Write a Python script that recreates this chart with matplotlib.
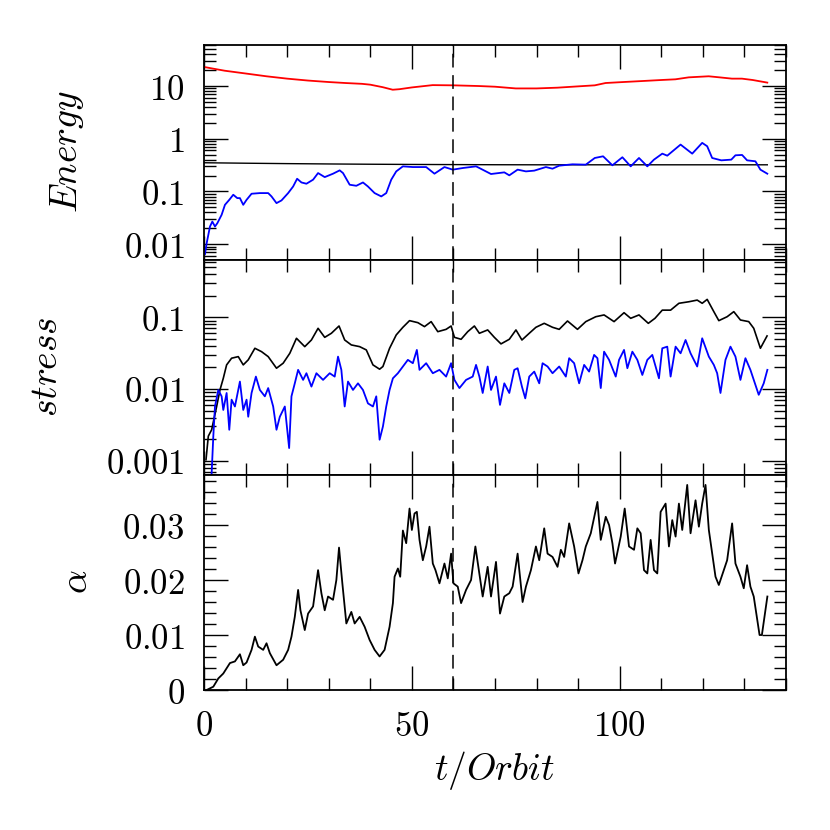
import numpy as np
import matplotlib.pyplot as plt
from matplotlib.ticker import MultipleLocator, FixedLocator, FixedFormatter, NullFormatter, LogLocator

plt.rcParams['mathtext.fontset'] = 'cm'

# energy panel
t_red = [0, 2, 5, 10.2, 15, 20, 25, 30, 34, 38, 40, 43, 45.4, 47, 50, 55, 60, 66, 70, 75, 80, 85,
         90, 94, 96.6, 100, 106, 110, 113.4, 116.6, 121.4, 124, 127, 129.4, 132, 135.5]
e_red = [23, 21.5, 19.5, 17.2, 15.3, 13.8, 12.7, 11.9, 11.4, 11.0, 10.6, 9.5, 8.5, 8.7, 9.4, 10.4,
         10.3, 10.0, 9.7, 9.0, 9.0, 9.3, 9.85, 10.3, 11.4, 11.8, 12.5, 13.0, 13.4, 14.6, 15.3, 14.6,
         13.8, 13.8, 13.0, 11.6]

t_blk = [0, 10, 20, 30, 40, 50, 60, 70, 80, 90, 100, 110, 120, 130, 135.5]
e_blk = [0.35, 0.343, 0.337, 0.332, 0.328, 0.325, 0.323, 0.321, 0.32, 0.32, 0.32, 0.32, 0.32, 0.32, 0.32]

t_blue = [0.24, 0.64, 1.44, 2.0, 2.64, 3.2, 4.24, 5.04, 6.08, 7.04, 8.0, 8.64, 9.44, 10.24, 11.44,
          13.44, 15.44, 16.24, 17.44, 18.64, 20.24, 21.44, 22.4, 23.44, 24.64, 26.24, 27.44, 29.04,
          31.04, 32.64, 33.44, 35.04, 36.64, 38.24, 39.44, 41.04, 42.64, 43.84, 45.04, 46.24, 47.84,
          50.24, 53.44, 55.44, 57.84, 59.84, 62.24, 65.44, 66.24, 69.04, 72.24, 73.44, 75.44, 77.44,
          79.44, 82.24, 83.84, 85.44, 88.64, 91.84, 94.0, 96.0, 98.24, 100.64, 102.64, 104.64,
          106.64, 108.24, 110.24, 111.44, 114.64, 117.44, 119.84, 121.04, 122.24, 124.44, 126.84,
          127.84, 129.44, 130.64, 132.64, 133.84, 135.5]
e_blue = [0.0065, 0.0104, 0.0216, 0.0268, 0.0216, 0.0249, 0.036, 0.0557, 0.0693, 0.0865, 0.0747,
          0.0747, 0.0557, 0.0693, 0.0904, 0.093, 0.093, 0.0804, 0.06, 0.0675, 0.093, 0.124, 0.174,
          0.148, 0.14, 0.167, 0.223, 0.187, 0.217, 0.251, 0.223, 0.134, 0.128, 0.148, 0.124, 0.093,
          0.0804, 0.093, 0.167, 0.24, 0.299, 0.29, 0.29, 0.217, 0.29, 0.259, 0.278, 0.299, 0.278,
          0.214, 0.23, 0.202, 0.259, 0.24, 0.248, 0.29, 0.27, 0.308, 0.327, 0.322, 0.431, 0.464,
          0.313, 0.445, 0.299, 0.431, 0.299, 0.401, 0.521, 0.477, 0.774, 0.521, 0.834, 0.72, 0.431,
          0.389, 0.401, 0.485, 0.492, 0.389, 0.373, 0.259, 0.217]

# stress panel
t_sblk = [0.48, 1.04, 1.84, 3.04, 3.84, 4.64, 5.44, 6.64, 8.24, 9.44, 10.64, 12.24, 13.84, 15.44,
          17.44, 19.04, 20.64, 22.24, 24.24, 25.84, 27.44, 29.04, 30.64, 32.48, 33.84, 35.44, 37.44,
          39.04, 40.64, 42.24, 43.04, 44.64, 46.24, 47.84, 49.44, 51.44, 53.04, 54.64, 56.24, 58.24,
          59.44, 60.24, 61.84, 63.44, 65.04, 66.24, 68.24, 69.84, 71.44, 73.44, 75.04, 76.48, 78.24,
          79.84, 81.84, 83.84, 85.44, 87.44, 89.84, 91.84, 94.24, 96.24, 98.64, 101.04, 102.64,
          104.64, 106.88, 108.48, 110.24, 112.24, 114.24, 116.64, 118.64, 119.84, 121.04, 122.64,
          123.84, 125.84, 127.44, 129.04, 131.04, 132.24, 133.84, 135.44]
s_blk = [0.00103, 0.0022, 0.0027, 0.0057, 0.0097, 0.0141, 0.0217, 0.0269, 0.0283, 0.0217, 0.0255,
         0.037, 0.0332, 0.0283, 0.0195, 0.0229, 0.0315, 0.051, 0.039, 0.0483, 0.0703, 0.0526, 0.0599,
         0.0757, 0.0483, 0.0412, 0.039, 0.0351, 0.0217, 0.0189, 0.0206, 0.037, 0.0568, 0.0726,
         0.0899, 0.0843, 0.0742, 0.0871, 0.0631, 0.068, 0.0757, 0.0526, 0.0494, 0.0631, 0.0757,
         0.0599, 0.0667, 0.0526, 0.0426, 0.0494, 0.0667, 0.0483, 0.0599, 0.0726, 0.0825, 0.0726,
         0.068, 0.0889, 0.068, 0.0871, 0.102, 0.108, 0.0871, 0.116, 0.0969, 0.108, 0.0825, 0.0969,
         0.126, 0.126, 0.157, 0.165, 0.174, 0.157, 0.178, 0.12, 0.0899, 0.102, 0.12, 0.0918, 0.0871,
         0.0703, 0.037, 0.055]

t_sblue = [1.84, 2.24, 2.64, 3.44, 4.24, 4.64, 5.44, 6.08, 6.64, 7.44, 8.64, 9.44, 10.24, 10.64,
           11.44, 12.48, 13.44, 14.64, 15.44, 16.64, 17.44, 18.24, 19.44, 20.48, 21.04, 21.84, 22.64,
           23.84, 24.64, 25.84, 27.04, 28.64, 30.24, 31.44, 32.24, 33.04, 33.84, 34.64, 35.84, 37.04,
           38.24, 39.44, 40.64, 41.44, 42.24, 43.04, 43.84, 44.64, 45.44, 46.64, 47.84, 49.04, 50.24,
           51.2, 51.84, 53.44, 55.04, 56.64, 58.24, 59.44, 60.24, 61.44, 63.04, 64.64, 65.44, 66.24,
           67.04, 68.24, 69.04, 70.24, 71.2, 72.24, 73.44, 74.64, 75.44, 76.48, 77.28, 78.24, 79.44,
           80.64, 81.44, 82.64, 83.84, 85.44, 87.04, 87.84, 89.04, 90.24, 91.44, 92.64, 93.84, 94.64,
           95.44, 96.24, 97.44, 99.04, 99.84, 101.04, 101.84, 103.04, 104.24, 105.44, 106.64, 107.84,
           109.44, 110.24, 111.44, 112.24, 113.44, 114.64, 115.84, 117.04, 118.64, 119.84, 121.44,
           122.64, 123.44, 124.24, 125.44, 126.64, 127.84, 129.04, 130.24, 131.44, 132.24, 133.44,
           134.64, 135.52]
s_blue = [0.00067, 0.0022, 0.0057, 0.0097, 0.0079, 0.0051, 0.0088, 0.0027, 0.0071, 0.0057, 0.0127,
          0.0051, 0.0071, 0.0041, 0.0088, 0.0149, 0.0097, 0.0079, 0.0103, 0.0057, 0.0027, 0.0041,
          0.0057, 0.0015, 0.0079, 0.012, 0.0185, 0.0134, 0.0166, 0.0108, 0.0166, 0.0134, 0.0166,
          0.0149, 0.0283, 0.0185, 0.0057, 0.0127, 0.0097, 0.012, 0.0097, 0.0063, 0.0057, 0.0079,
          0.00196, 0.003, 0.0057, 0.0097, 0.0141, 0.0166, 0.0206, 0.0255, 0.0229, 0.0351, 0.0185,
          0.0229, 0.0166, 0.0185, 0.0149, 0.0229, 0.0134, 0.0103, 0.0134, 0.0149, 0.0217, 0.0149,
          0.0088, 0.0206, 0.0097, 0.0149, 0.006, 0.012, 0.0088, 0.0185, 0.0195, 0.0108, 0.0074,
          0.0149, 0.0175, 0.012, 0.0229, 0.0206, 0.0166, 0.0206, 0.0149, 0.0269, 0.0229, 0.012,
          0.0217, 0.0175, 0.0299, 0.0269, 0.0103, 0.0332, 0.0255, 0.0149, 0.0255, 0.0351, 0.0195,
          0.0332, 0.0255, 0.0157, 0.0255, 0.0299, 0.0141, 0.037, 0.039, 0.0149, 0.039, 0.0315,
          0.0483, 0.0315, 0.0206, 0.051, 0.0283, 0.0217, 0.0166, 0.0088, 0.0255, 0.039, 0.0283,
          0.0134, 0.0269, 0.0185, 0.0134, 0.0083, 0.012, 0.0185]

# alpha panel
t_alpha = [0.64, 2.24, 3.44, 4.64, 6.24, 7.44, 8.64, 9.44, 10.24, 11.44, 12.24, 13.04, 14.24, 15.04,
           15.84, 17.44, 19.04, 20.24, 21.04, 21.84, 22.64, 23.2, 24.24, 25.04, 26.24, 27.44, 28.24,
           29.04, 29.84, 31.04, 31.84, 32.48, 33.28, 34.24, 35.44, 36.24, 37.44, 38.64, 39.84, 41.04,
           42.24, 43.44, 44.64, 45.44, 45.84, 46.64, 47.2, 47.84, 48.64, 49.44, 50.0, 50.64, 51.2,
           51.84, 52.64, 53.44, 54.24, 55.04, 55.68, 56.64, 57.84, 58.64, 59.44, 60.0, 61.04, 61.84,
           63.04, 64.24, 65.28, 66.24, 67.04, 68.24, 69.04, 70.24, 71.2, 72.24, 73.44, 74.24, 75.44,
           76.64, 77.44, 78.64, 79.84, 80.64, 81.84, 82.64, 83.84, 85.04, 85.84, 86.64, 87.84, 89.04,
           90.08, 91.04, 91.84, 93.04, 94.64, 95.44, 96.64, 97.44, 98.24, 98.88, 100.24, 101.2,
           102.24, 103.44, 104.24, 105.04, 105.84, 106.64, 107.44, 108.24, 109.04, 109.84, 111.04,
           111.84, 112.64, 113.44, 114.24, 115.04, 116.24, 117.04, 118.24, 119.04, 119.84, 120.64,
           121.44, 122.24, 123.04, 123.84, 125.04, 125.84, 127.04, 127.84, 129.04, 129.84, 130.64,
           131.44, 132.24, 133.64, 134.2, 135.52]
alpha = [0.0, 0.0006, 0.0021, 0.003, 0.0049, 0.0052, 0.0065, 0.0045, 0.005, 0.0073, 0.0097, 0.0079,
         0.0073, 0.0085, 0.0067, 0.0045, 0.0055, 0.0073, 0.0097, 0.0133, 0.0182, 0.0145, 0.0109,
         0.0139, 0.0152, 0.0218, 0.0176, 0.0145, 0.017, 0.0164, 0.02, 0.0259, 0.0194, 0.0121, 0.0142,
         0.0121, 0.0133, 0.0115, 0.0091, 0.0073, 0.0061, 0.0073, 0.0115, 0.0158, 0.0206, 0.0221,
         0.0206, 0.029, 0.0267, 0.033, 0.0291, 0.0321, 0.0324, 0.0273, 0.0236, 0.0261, 0.0297, 0.023,
         0.0218, 0.0194, 0.023, 0.0203, 0.0248, 0.0194, 0.0188, 0.0158, 0.0182, 0.02, 0.0261, 0.0212,
         0.017, 0.0224, 0.017, 0.0233, 0.0139, 0.017, 0.0176, 0.0188, 0.0248, 0.016, 0.0188, 0.0218,
         0.0261, 0.0236, 0.0294, 0.0248, 0.0242, 0.0224, 0.0255, 0.0242, 0.0303, 0.0261, 0.0212,
         0.0236, 0.0261, 0.0285, 0.0342, 0.0273, 0.0315, 0.03, 0.0267, 0.023, 0.0279, 0.033, 0.0261,
         0.0255, 0.0294, 0.0285, 0.0218, 0.0212, 0.0273, 0.0218, 0.0212, 0.0324, 0.0339, 0.0261,
         0.0309, 0.0279, 0.0339, 0.0291, 0.0373, 0.0285, 0.0345, 0.0297, 0.0339, 0.0373, 0.0291,
         0.0248, 0.0206, 0.0191, 0.0218, 0.0236, 0.0303, 0.023, 0.0206, 0.0185, 0.0227, 0.0188, 0.017,
         0.01, 0.01, 0.017]

t_mark = 60

fig = plt.figure(figsize=(8.3, 8.3), dpi=100)
W = 830.0
left, width = 204 / W, 582 / W
ax1 = fig.add_axes([left, 1 - 260 / W, width, 215 / W])
ax2 = fig.add_axes([left, 1 - 475 / W, width, 215 / W])
ax3 = fig.add_axes([left, 1 - 690 / W, width, 215 / W])

ax1.plot(t_red, e_red, color='red', lw=1.3)
ax1.plot(t_blk, e_blk, color='black', lw=1.0)
ax1.plot(t_blue, e_blue, color='blue', lw=1.3)
ax1.set_yscale('log')
ax1.set_ylim(0.005, 60)
ax1.yaxis.set_major_locator(FixedLocator([0.01, 0.1, 1, 10]))
ax1.yaxis.set_major_formatter(FixedFormatter([r'$0.01$', r'$0.1$', r'$1$', r'$10$']))

ax2.plot(t_sblk, s_blk, color='black', lw=1.2)
ax2.plot(t_sblue, s_blue, color='blue', lw=1.3)
ax2.set_yscale('log')
ax2.set_ylim(10**-3.2, 10**-0.2)
ax2.yaxis.set_major_locator(FixedLocator([0.001, 0.01, 0.1]))
ax2.yaxis.set_major_formatter(FixedFormatter([r'$0.001$', r'$0.01$', r'$0.1$']))

ax3.plot(t_alpha, alpha, color='black', lw=1.3)
ax3.set_ylim(0, 0.0391)
ax3.yaxis.set_major_locator(FixedLocator([0, 0.01, 0.02, 0.03]))
ax3.yaxis.set_major_formatter(FixedFormatter([r'$0$', r'$0.01$', r'$0.02$', r'$0.03$']))
ax3.yaxis.set_minor_locator(MultipleLocator(0.002))

for ax in (ax1, ax2):
    ax.yaxis.set_minor_locator(LogLocator(base=10, subs=np.arange(2, 10), numticks=20))
    ax.yaxis.set_minor_formatter(NullFormatter())

for ax in (ax1, ax2, ax3):
    ax.axvline(t_mark, color='black', lw=1.1, dashes=(9, 5))
    ax.set_xlim(0, 140)
    ax.xaxis.set_major_locator(FixedLocator([0, 50, 100]))
    ax.xaxis.set_minor_locator(MultipleLocator(10))
    ax.tick_params(which='both', direction='in', top=True, right=True, width=1.0)
    ax.tick_params(which='major', length=17, labelsize=25, pad=14)
    ax.tick_params(which='minor', length=8.5)
    for sp in ax.spines.values():
        sp.set_linewidth(1.3)
    if ax is not ax3:
        ax.tick_params(labelbottom=False)

ax3.xaxis.set_major_formatter(FixedFormatter([r'$0$', r'$50$', r'$100$']))

fig.text(67 / W, 1 - 152 / W, r'$Energy$', rotation=90, ha='center', va='center', fontsize=27)
fig.text(47 / W, 1 - 367 / W, r'$stress$', rotation=90, ha='center', va='center', fontsize=27)
fig.text(77 / W, 1 - 582 / W, r'$\alpha$', rotation=90, ha='center', va='center', fontsize=27)
fig.text(495 / W, 1 - 770 / W, r'$t/Orbit$', ha='center', va='center', fontsize=27)

fig.savefig('out.png', dpi=100)
